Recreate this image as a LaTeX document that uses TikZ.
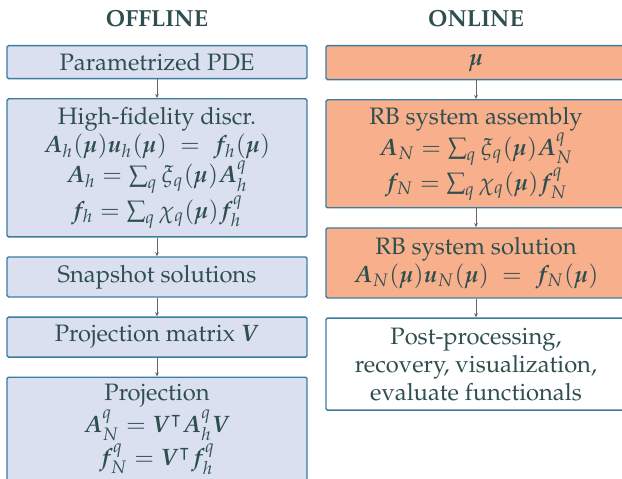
\documentclass[tikz,border=0pt]{standalone}
\usepackage[T1]{fontenc}
\usepackage{mathpazo}
\usepackage{amsmath,amssymb,bm}
\usetikzlibrary{arrows.meta,positioning}
\definecolor{rbtext}{HTML}{2F4F4F}
\definecolor{rbedge}{HTML}{3D7CA2}
\definecolor{offfill}{HTML}{DAE0EF}
\definecolor{onfill}{HTML}{F8B08C}
\newcommand{\vA}{\bm{A}}
\newcommand{\vu}{\bm{u}}
\newcommand{\vf}{\bm{f}}
\newcommand{\vV}{\bm{V}}
\newcommand{\vmu}{\bm{\mu}}
\newcommand{\stagefont}{\fontsize{9.5pt}{11.2pt}\selectfont}
\tikzset{
  stage/.style={draw=rbedge,line width=0.55pt,rounded corners=0.6pt,align=center,minimum width=120pt,inner xsep=1pt,inner ysep=0.3pt,text=rbtext},
  offstage/.style={stage,fill=offfill},
  onstage/.style={stage,fill=onfill},
  outstage/.style={stage,fill=white},
  heading/.style={font=\fontsize{9.3pt}{11.2pt}\selectfont\bfseries,text=rbtext},
  flow/.style={-{Stealth[length=1.7pt,width=1.5pt]},draw=black!60,line width=0.3pt}
}
\begin{document}
\begin{tikzpicture}[x=0.4pt,y=-0.4pt,node distance=7.5pt,font=\stagefont]
  \useasboundingbox (0,0) rectangle (622,479);
  % offline stage
  \node[heading] (offline) at (157,18) {OFFLINE};
  \node[offstage,minimum height=13.2pt,anchor=north] (pde) at (157,45) {Parametrized PDE};
  \node[offstage,minimum height=55.2pt,below=of pde] (hifi) {High-fidelity discr.\\
    $\vA_h(\vmu)\vu_h(\vmu) \;=\; \vf_h(\vmu)$\\
    $\vA_h = \sum_q \xi_q(\vmu)\vA_h^q$\\
    $\vf_h = \sum_q \chi_q(\vmu)\vf_h^q$};
  \node[offstage,minimum height=16pt,below=of hifi] (snap) {Snapshot solutions};
  \node[offstage,minimum height=16pt,below=of snap] (projmat) {Projection matrix $\vV$};
  \node[offstage,minimum height=41.8pt,below=of projmat] (proj) {Projection\\
    $\vA_N^q = \vV^{\intercal}\vA_h^q\vV$\\
    $\vf_N^q = \vV^{\intercal}\vf_h^q$};
  % online stage
  \node[heading] (online) at (476,18) {ONLINE};
  \node[onstage,minimum height=13.6pt,anchor=north] (param) at (476,45) {$\vmu$};
  \node[onstage,minimum height=43.2pt,below=of param] (assembly) {RB system assembly\\
    $\vA_N = \sum_q \xi_q(\vmu)\vA_N^q$\\
    $\vf_N = \sum_q \chi_q(\vmu)\vf_N^q$};
  \node[onstage,minimum height=28pt,below=of assembly] (solve) {RB system solution\\
    $\vA_N(\vmu)\vu_N(\vmu) \;=\; \vf_N(\vmu)$};
  \node[outstage,minimum height=36.8pt,below=of solve] (post) {Post-processing,\\
    recovery, visualization,\\ evaluate functionals};
  \draw[flow] (pde.south)--(hifi.north);
  \draw[flow] (hifi.south)--(snap.north);
  \draw[flow] (snap.south)--(projmat.north);
  \draw[flow] (projmat.south)--(proj.north);
  \draw[flow] (param.south)--(assembly.north);
  \draw[flow] (assembly.south)--(solve.north);
  \draw[flow] (solve.south)--(post.north);
\end{tikzpicture}
\end{document}
